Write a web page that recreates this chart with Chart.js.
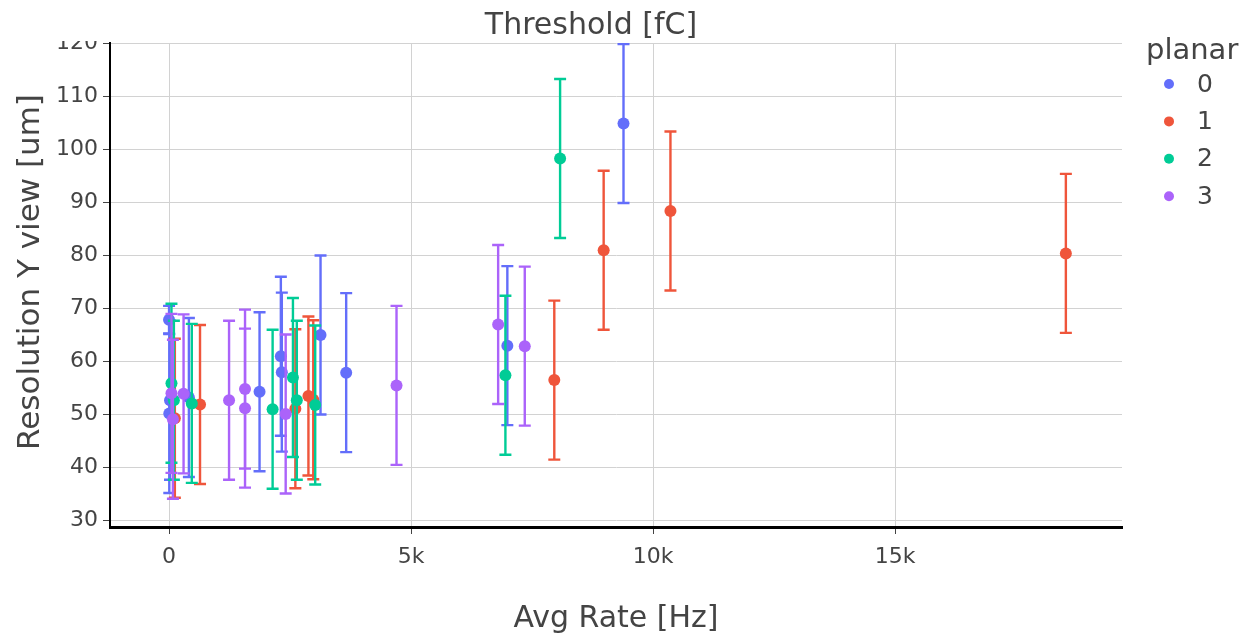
<!DOCTYPE html>
<html>
<head>
<meta charset="utf-8">
<script src="https://cdn.jsdelivr.net/npm/chart.js@4.4.0/dist/chart.umd.min.js"></script>
<style>
  html, body { margin: 0; padding: 0; background: #fff; }
  #wrap { width: 1246px; height: 637px; }
</style>
</head>
<body>
<div id="wrap"><canvas id="resChart" width="1246" height="637"></canvas></div>
<script>
const planarNames = ["0", "1", "2", "3"];
const planarColors = ["#636efa", "#ef553b", "#00cc96", "#ab63fa"];

// planar 0
const rate0 = [0, 20, 5, 410, 1870, 2310, 2330, 3130, 3660, 6990, 9390];
const res0 = [67.8, 52.6, 50.1, 53.1, 54.2, 60.9, 57.9, 64.9, 57.8, 62.9, 104.8];
const err0 = [2.6, 15, 15, 15, 15, 15, 15, 15, 15, 15, 15];

// planar 1
const rate1 = [120, 640, 2610, 2880, 2980, 7960, 8980, 10360, 18530];
const res1 = [49.2, 51.8, 51.0, 53.4, 52.7, 56.4, 80.9, 88.3, 80.3];
const err1 = [15, 15, 15, 15, 15, 15, 15, 15, 15];

// planar 2
const rate2 = [50, 100, 470, 2140, 2560, 2640, 3020, 6950, 8080];
const res2 = [55.8, 52.6, 52.0, 50.9, 56.9, 52.6, 51.7, 57.3, 98.2];
const err2 = [15, 15, 15, 15, 15, 15, 15, 15, 15];

// planar 3
const rate3 = [50, 80, 300, 1240, 1570, 1570, 2410, 4700, 6800, 7350];
const res3 = [53.9, 49.0, 53.8, 52.6, 54.7, 51.1, 50.0, 55.4, 66.9, 62.8];
const err3 = [15, 15, 15, 15, 15, 15, 15, 15, 15, 15];

const xTicks = [0, 5000, 10000, 15000];
const yTicks = [30, 40, 50, 60, 70, 80, 90, 100, 110, 120];

const rates = [rate0, rate1, rate2, rate3];
const resols = [res0, res1, res2, res3];
const errs = [err0, err1, err2, err3];

const FONT = "'DejaVu Sans', Verdana, sans-serif";
const TXT = "#444";

// error bars drawn under the markers of each trace
const errorBars = {
  id: "errorBars",
  beforeDatasetDraw(chart, args) {
    const ds = chart.data.datasets[args.index];
    const yScale = chart.scales.y;
    const area = chart.chartArea;
    const ctx = chart.ctx;
    ctx.save();
    ctx.beginPath();
    ctx.rect(area.left, area.top, area.right - area.left, area.bottom - area.top);
    ctx.clip();
    ctx.strokeStyle = ds.borderColor;
    ctx.lineWidth = 2.4;
    args.meta.data.forEach((pt, i) => {
      const v = ds.data[i].y;
      const e = ds.errors[i];
      const yt = yScale.getPixelForValue(v + e);
      const yb = yScale.getPixelForValue(v - e);
      ctx.beginPath();
      ctx.moveTo(pt.x, yt);
      ctx.lineTo(pt.x, yb);
      ctx.moveTo(pt.x - 6, yt);
      ctx.lineTo(pt.x + 6, yt);
      ctx.moveTo(pt.x - 6, yb);
      ctx.lineTo(pt.x + 6, yb);
      ctx.stroke();
    });
    ctx.restore();
  }
};

// title, y title, legend
const decorations = {
  id: "decorations",
  afterDraw(chart) {
    const ctx = chart.ctx;
    const area = chart.chartArea;
    ctx.save();
    // top of the "120" label is hidden in the original
    ctx.fillStyle = "#fff";
    ctx.fillRect(50, 0, area.left - 52, 41);

    ctx.fillStyle = TXT;
    ctx.textBaseline = "middle";
    ctx.textAlign = "center";
    ctx.font = "30px " + FONT;
    ctx.fillText("Threshold [fC]", 591, 26);

    ctx.save();
    ctx.translate(31, 272);
    ctx.rotate(-Math.PI / 2);
    ctx.font = "31px " + FONT;
    ctx.fillText("Resolution Y view [um]", 0, 0);
    ctx.restore();

    ctx.textAlign = "left";
    ctx.font = "29px " + FONT;
    ctx.fillText("planar", 1146, 51);
    ctx.font = "25px " + FONT;
    planarNames.forEach((name, i) => {
      const cy = 84 + i * 37.4;
      ctx.fillStyle = planarColors[i];
      ctx.beginPath();
      ctx.arc(1169, cy, 5, 0, Math.PI * 2);
      ctx.fill();
      ctx.fillStyle = TXT;
      ctx.fillText(name, 1197, cy + 1);
    });
    ctx.restore();
  }
};

const datasets = planarNames.map((name, k) => ({
  label: name,
  data: rates[k].map((x, i) => ({ x: x, y: resols[k][i] })),
  errors: errs[k],
  backgroundColor: planarColors[k],
  borderColor: planarColors[k],
  pointRadius: 6,
  pointBorderWidth: 0,
  order: 3 - k,
}));

const ctx = document.getElementById("resChart").getContext("2d");
window.myChart = new Chart(ctx, {
  type: "scatter",
  data: { datasets: datasets },
  plugins: [errorBars, decorations],
  options: {
    responsive: false,
    animation: false,
    layout: { padding: { left: 0, top: 43, right: 124, bottom: 0 } },
    plugins: {
      legend: { display: false },
      title: { display: false },
      tooltip: { enabled: false },
    },
    scales: {
      x: {
        type: "linear",
        min: -1220,
        max: 19690,
        afterBuildTicks: (s) => { s.ticks = xTicks.map((v) => ({ value: v })); },
        afterFit: (s) => { s.height = 110; },
        ticks: {
          color: TXT,
          font: { family: FONT, size: 22 },
          padding: 10,
          maxRotation: 0,
          callback: (v) => (v === 0 ? "0" : v / 1000 + "k"),
        },
        grid: { color: "#d2d2d2", lineWidth: 1, tickColor: TXT, tickLength: 7 },
        border: { color: "#000", width: 3 },
        title: {
          display: true,
          text: "Avg Rate [Hz]",
          color: TXT,
          font: { family: FONT, size: 30 },
          padding: { top: 0, bottom: 0 },
        },
      },
      y: {
        type: "linear",
        min: 28.68,
        max: 120,
        afterBuildTicks: (s) => { s.ticks = yTicks.map((v) => ({ value: v })); },
        afterFit: (s) => { s.width = 110; },
        ticks: {
          color: TXT,
          font: { family: FONT, size: 22 },
          padding: 5,
        },
        grid: { color: "#d2d2d2", lineWidth: 1, tickColor: TXT, tickLength: 7 },
        border: { color: "#000", width: 2 },
      },
    },
  },
});
</script>
</body>
</html>
